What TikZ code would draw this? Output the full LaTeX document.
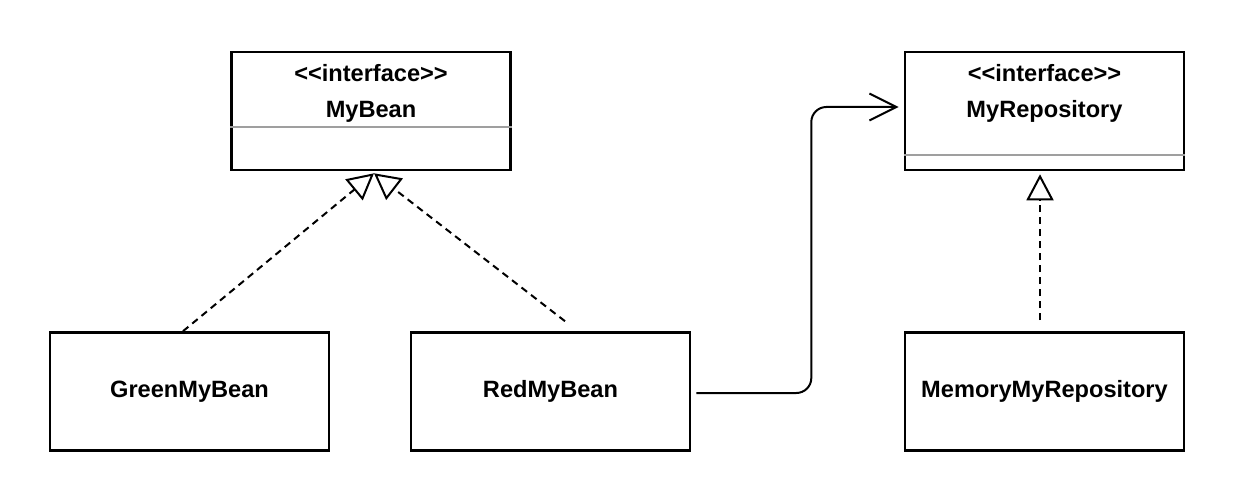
\documentclass[tikz,border=0pt]{standalone}
\usepackage{fontspec}
\setmainfont{Liberation Sans}
\usetikzlibrary{arrows.meta,positioning,calc}

\begin{document}
\begin{tikzpicture}[
  x=0.5pt, y=-0.5pt,
  classbox/.style={draw=black, line width=1.3pt, minimum width=139.5pt, minimum height=59pt, inner sep=0pt, font=\fontsize{11.8}{14}\selectfont\bfseries},
  classtext/.style={inner sep=0pt, font=\fontsize{11.8}{14}\selectfont\bfseries},
  divider/.style={draw=gray!75, line width=1pt},
  realize/.style={line width=1pt, dash pattern=on 3.5pt off 2.5pt, -{Triangle[open, length=13pt, width=13.5pt, line width=1pt]}},
  assoc/.style={line width=1pt, rounded corners=7.5pt, -{Straight Barb[length=13.5pt, width=13.5pt, line width=1pt]}},
]

\useasboundingbox (0,0) rectangle (1236,502);

% interfaces
\node[classbox] (mybean) at (371,111) {};
\node[classtext] (mybeanst) at (371,73) {<\kern0pt<interface>\kern0pt>};
\node[classtext] (mybeanname) at (371,112) {MyBean};
\draw[divider] ([yshift=-8pt]mybean.west) -- ([yshift=-8pt]mybean.east);

\node[classbox] (myrepo) at (1044.5,111) {};
\node[classtext] (myrepost) at (1044.5,73) {<\kern0pt<interface>\kern0pt>};
\node[classtext] (myreponame) at (1044.5,111) {MyRepository};
\draw[divider] ([yshift=-22pt]myrepo.west) -- ([yshift=-22pt]myrepo.east);

% implementations
\node[classbox] (green) at (189.5,391.5) {GreenMyBean};
\node[classbox] (red) at (550.5,391.5) {RedMyBean};
\node[classbox] (memory) at (1044.5,391.5) {MemoryMyRepository};

% realizations
\draw[realize] ([xshift=-3.25pt]green.north) -- ([xshift=1.5pt,yshift=-1pt]mybean.south);
\draw[realize] ([xshift=7.25pt,yshift=5pt]red.north) -- ([xshift=1.5pt,yshift=-1pt]mybean.south);
\draw[realize] ([xshift=-2.25pt,yshift=5.5pt]memory.north) -- ([xshift=-2.25pt,yshift=-1.5pt]myrepo.south);

% association
\draw[assoc] ([xshift=2.5pt,yshift=-0.75pt]red.east) -- ++(115,0) |- ([xshift=-2.5pt,yshift=2pt]myrepo.west);

\end{tikzpicture}
\end{document}
